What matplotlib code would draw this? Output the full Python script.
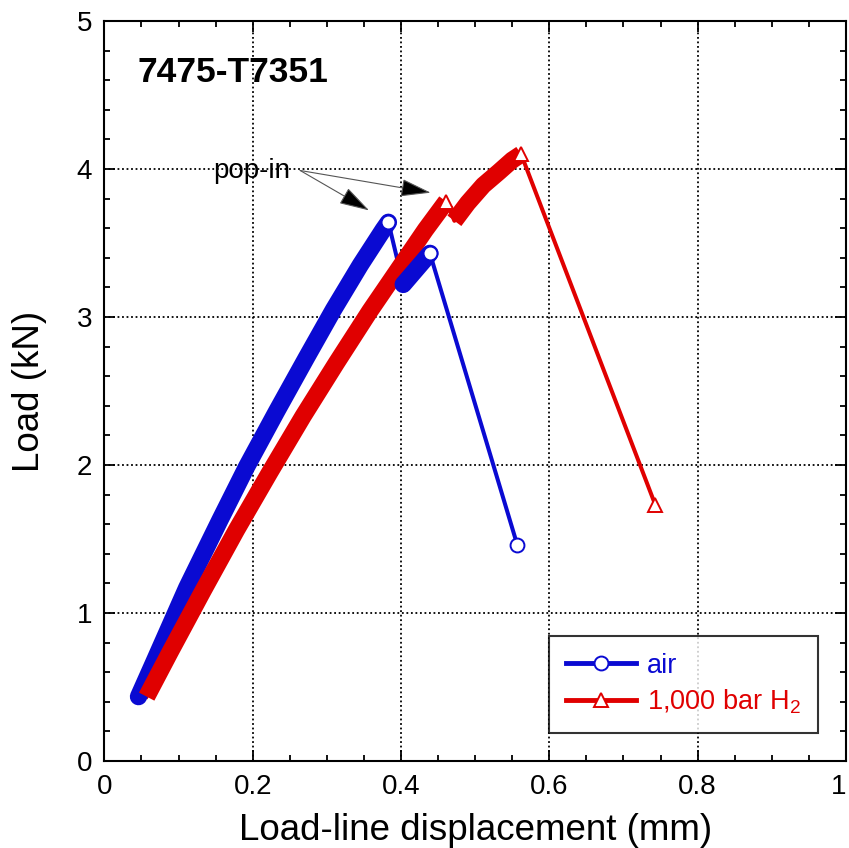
import matplotlib
matplotlib.use('Agg')
import matplotlib.pyplot as plt
from matplotlib.lines import Line2D
from matplotlib.ticker import MultipleLocator

plt.rcParams['font.family'] = ['Liberation Sans', 'DejaVu Sans']
plt.rcParams['mathtext.fontset'] = 'custom'
plt.rcParams['mathtext.rm'] = 'Liberation Sans'
plt.rcParams['mathtext.default'] = 'regular'

# ---- data ----
# air: loading segment before pop-in
air_x1 = [0.046, 0.066, 0.111, 0.156, 0.192, 0.232, 0.273, 0.309, 0.345, 0.376, 0.383]
air_y1 = [0.435, 0.66, 1.17, 1.63, 1.99, 2.36, 2.73, 3.05, 3.35, 3.59, 3.64]
# air: reloading after pop-in
air_x2 = [0.403, 0.415, 0.427, 0.439]
air_y2 = [3.22, 3.29, 3.36, 3.43]
# air: final point
air_xf = [0.557]
air_yf = [1.457]

# 1,000 bar H2: loading before pop-in
h2_x1 = [0.057, 0.089, 0.133, 0.178, 0.223, 0.268, 0.313, 0.358, 0.403, 0.433, 0.461]
h2_y1 = [0.435, 0.74, 1.15, 1.56, 1.95, 2.33, 2.69, 3.04, 3.37, 3.59, 3.78]
# H2: reloading after pop-in
h2_x2 = [0.472, 0.490, 0.511, 0.532, 0.550, 0.562]
h2_y2 = [3.65, 3.77, 3.89, 3.98, 4.06, 4.10]
# H2: final point
h2_xf = [0.743]
h2_yf = [1.73]

labels = ['air', '1,000 bar H$_2$']
title = '7475-T7351'
x_ticks = [0, 0.2, 0.4, 0.6, 0.8, 1]
x_tick_labels = ['0', '0.2', '0.4', '0.6', '0.8', '1']
y_ticks = [0, 1, 2, 3, 4, 5]

BLUE = '#0a0ad2'
RED = '#e00000'

fig = plt.figure(figsize=(8.49, 8.48), dpi=100)
ax = fig.add_axes([104.4 / 849, 1 - 761 / 848, 741.5 / 849, 740 / 848])

band_lw = 12.5
thin_lw = 2.9
ms = 10

# thin connecting lines
ax.plot(air_x1 + air_x2 + air_xf, air_y1 + air_y2 + air_yf, color=BLUE, lw=thin_lw, zorder=2)
ax.plot(h2_x1 + h2_x2 + h2_xf, h2_y1 + h2_y2 + h2_yf, color=RED, lw=thin_lw, zorder=2.5)

# dense marker bands
ax.plot(air_x1, air_y1, color=BLUE, lw=band_lw, solid_capstyle='round', solid_joinstyle='round', zorder=3)
ax.plot(h2_x1, h2_y1, color=RED, lw=band_lw, solid_capstyle='butt', solid_joinstyle='round', zorder=4)
ax.plot(h2_x2, h2_y2, color=RED, lw=band_lw, solid_capstyle='butt', solid_joinstyle='round', zorder=4)
ax.plot(air_x2, air_y2, color=BLUE, lw=band_lw, solid_capstyle='round', solid_joinstyle='round', zorder=5)

# open end markers
ax.plot([air_x1[-1], air_x2[-1], air_xf[0]], [air_y1[-1], air_y2[-1], air_yf[0]], ls='none',
        marker='o', ms=ms, mfc='white', mec=BLUE, mew=1.4, zorder=6)
ax.plot([h2_x1[-1], h2_x2[-1], h2_xf[0]], [h2_y1[-1], h2_y2[-1], h2_yf[0]], ls='none',
        marker='^', ms=ms, mfc='white', mec=RED, mew=1.4, zorder=6)

ax.set_xlim(0, 1)
ax.set_ylim(0, 5)
ax.set_xticks(x_ticks)
ax.set_xticklabels(x_tick_labels)
ax.set_yticks(y_ticks)
ax.xaxis.set_minor_locator(MultipleLocator(0.05))
ax.yaxis.set_minor_locator(MultipleLocator(0.2))
ax.tick_params(which='both', direction='in', top=True, right=True, width=1.3, labelsize=20)
ax.tick_params(which='major', length=8, pad=9)
ax.tick_params(which='minor', length=4.5)
ax.get_xticklabels()[-1].set_horizontalalignment('right')
for s in ax.spines.values():
    s.set_linewidth(1.5)
ax.grid(which='major', color='black', linestyle=(0, (1, 1.5)), lw=1.3)
ax.set_axisbelow(True)

ax.set_xlabel('Load-line displacement (mm)', fontsize=26.5, labelpad=10)
ax.set_ylabel('Load (kN)', fontsize=26.5, labelpad=21)

ax.text(0.044, 0.931, title, transform=ax.transAxes, fontsize=25.5, fontweight='bold',
        ha='left', va='center')

ax.text(0.199, 3.985, 'pop-in', fontsize=20, ha='center', va='center', zorder=7)
for tip in [(0.357, 3.72), (0.440, 3.84)]:
    ax.annotate('', xy=tip, xytext=(0.264, 3.99),
                arrowprops=dict(arrowstyle='-|>,head_length=0.95,head_width=0.28',
                                ec='#555555', fc='black', lw=0.8, mutation_scale=20,
                                shrinkA=0, shrinkB=0), zorder=7)

handles = [Line2D([], [], color=BLUE, lw=thin_lw + 0.6, marker='o', ms=ms, mfc='white', mec=BLUE, mew=1.4),
           Line2D([], [], color=RED, lw=thin_lw + 0.6, marker='^', ms=ms, mfc='white', mec=RED, mew=1.4)]
leg = ax.legend(handles, labels, loc='lower right', bbox_to_anchor=(0.962, 0.038),
                fontsize=19.5, frameon=True, fancybox=False, edgecolor='black',
                handlelength=2.6, handletextpad=0.4, borderpad=0.62, labelspacing=0.32,
                numpoints=1, borderaxespad=0)
leg.get_frame().set_linewidth(1.5)
leg.get_texts()[0].set_color(BLUE)
leg.get_texts()[1].set_color(RED)
leg.set_zorder(8)

fig.savefig('out.png', dpi=100)
